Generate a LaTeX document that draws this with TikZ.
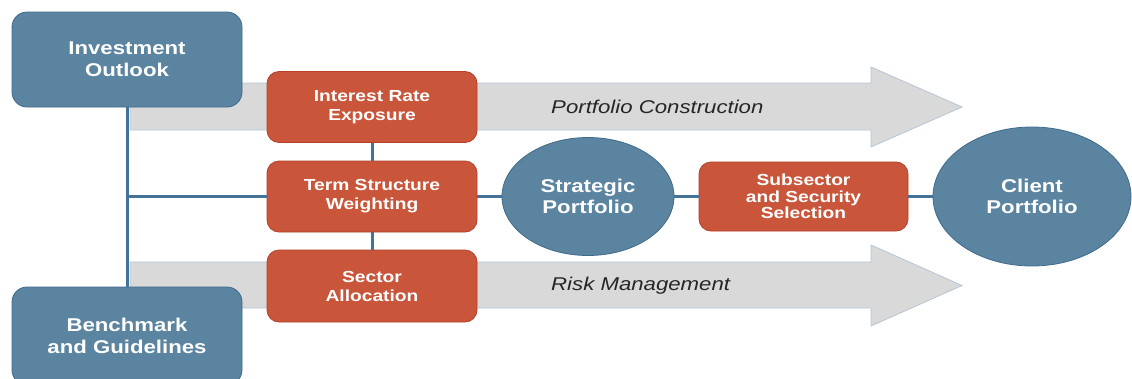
\documentclass[tikz,border=0pt]{standalone}
\usepackage{fontspec}
\setmainfont{Liberation Sans}[FakeStretch=1.2]
\usetikzlibrary{shapes.geometric}
\definecolor{slate}{HTML}{5B84A0}
\definecolor{slateedge}{HTML}{3F6B8B}
\definecolor{linkblue}{HTML}{44739A}
\definecolor{rust}{HTML}{C9563A}
\definecolor{rustedge}{HTML}{B5402A}
\definecolor{flowgray}{HTML}{D9D9D9}
\definecolor{flowedge}{HTML}{B4C6D8}
\tikzset{
  bluebox/.style={draw=slateedge, line width=0.8pt, fill=slate, rounded corners=15pt,
    text=white, align=center, inner sep=0pt,
    font=\bfseries\fontsize{18.5}{22}\selectfont},
  redbox/.style={draw=rustedge, line width=0.8pt, fill=rust, rounded corners=12pt,
    text=white, align=center, inner sep=0pt,
    font=\bfseries\fontsize{16}{19}\selectfont},
  blueoval/.style={ellipse, draw=slateedge, line width=0.8pt, fill=slate,
    text=white, align=center, inner sep=0pt,
    font=\bfseries\fontsize{18.5}{20.5}\selectfont},
  flowarrow/.style={fill=flowgray, draw=flowedge, line width=0.8pt},
  flowlabel/.style={anchor=west, inner sep=0pt, text=black!85,
    font=\itshape\fontsize{18.5}{22}\selectfont},
  link/.style={draw=linkblue, line width=3pt}
}
\begin{document}
\begin{tikzpicture}[x=1pt, y=-1pt]
\clip (0,0) rectangle (1132,378);
\fill[white] (0,0) rectangle (1132,378);

% the two process arrows
\draw[flowarrow] (130,83) -- (871,83) -- (871,67) -- (962,107) -- (871,147)
  -- (871,130) -- (130,130) -- cycle;
\draw[flowarrow] (130,262) -- (871,262) -- (871,245) -- (962,285.5) -- (871,326)
  -- (871,308) -- (130,308) -- cycle;
\node[flowlabel] (pclabel) at (551,107) {Portfolio Construction};
\node[flowlabel] (rmlabel) at (551,286) {Risk Management};

% nodes
\node[bluebox, minimum width=230pt, minimum height=95pt] (inv) at (127,59.5)
  {Investment\\Outlook};
\node[bluebox, minimum width=230pt, minimum height=98pt] (bench) at (127,336)
  {Benchmark\\and Guidelines};
\node[redbox, minimum width=210pt, minimum height=71pt] (ire) at (372,107)
  {Interest Rate\\Exposure};
\node[redbox, minimum width=210pt, minimum height=71pt] (tsw) at (372,196.5)
  {Term Structure\\Weighting};
\node[redbox, minimum width=210pt, minimum height=72pt] (sal) at (372,286)
  {Sector\\Allocation};
\node[blueoval, minimum width=172pt, minimum height=118pt] (sp) at (588,196.5)
  {Strategic\\Portfolio};
\node[redbox, minimum width=209pt, minimum height=69pt,
  font=\bfseries\fontsize{16}{16.5}\selectfont] (sss) at (803.5,196.5)
  {Subsector\\and Security\\Selection};
\node[blueoval, minimum width=198pt, minimum height=139pt] (cp) at (1032,196.5)
  {Client\\Portfolio};

% connectors
\coordinate (spine) at (inv.south |- tsw.west);
\draw[link] (inv.south) -- (bench.north);
\draw[link] (spine) -- (tsw.west);
\draw[link] (ire.south) -- (tsw.north);
\draw[link] (tsw.south) -- (sal.north);
\draw[link] (tsw.east) -- (sp.west);
\draw[link] (sp.east) -- (sss.west);
\draw[link] (sss.east) -- (cp.west);
\end{tikzpicture}
\end{document}
